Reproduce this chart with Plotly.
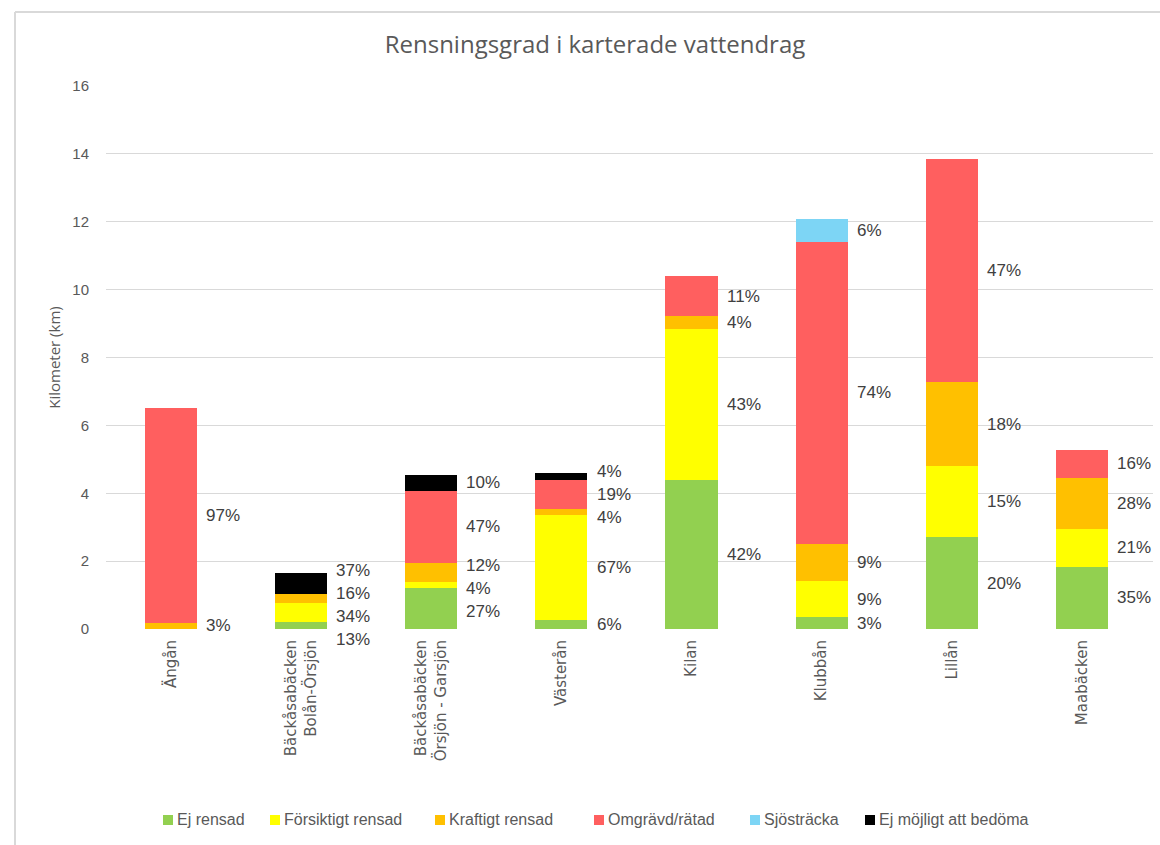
import plotly.graph_objects as go

categories = ["Ängån", "Bäckåsabäcken<br>Bolån-Örsjön", "Bäckåsabäcken<br>Örsjön - Garsjön",
              "Västerån", "Kilan", "Klubbån", "Lillån", "Maabäcken"]

series_names = ["Ej rensad", "Försiktigt rensad", "Kraftigt rensad",
                "Omgrävd/rätad", "Sjösträcka", "Ej möjligt att bedöma"]

# kilometre values per series (per category)
ej_rensad      = [0.00, 0.21, 1.20, 0.26, 4.40, 0.34, 2.70, 1.84]
forsiktigt     = [0.00, 0.56, 0.18, 3.09, 4.45, 1.08, 2.09, 1.11]
kraftigt       = [0.18, 0.27, 0.56, 0.19, 0.36, 1.09, 2.50, 1.50]
omgravd        = [6.34, 0.00, 2.14, 0.85, 1.19, 8.89, 6.56, 0.83]
sjostracka     = [0.00, 0.00, 0.00, 0.00, 0.00, 0.67, 0.00, 0.00]
ej_mojligt     = [0.00, 0.61, 0.46, 0.20, 0.00, 0.00, 0.00, 0.00]

# percentage labels as printed on the chart
pct_ej_rensad  = [None, 13, 27, 6, 42, 3, 20, 35]
pct_forsiktigt = [None, 34, 4, 67, 43, 9, 15, 21]
pct_kraftigt   = [3, 16, 12, 4, 4, 9, 18, 28]
pct_omgravd    = [97, None, 47, 19, 11, 74, 47, 16]
pct_sjostracka = [None, None, None, None, None, 6, None, None]
pct_ej_mojligt = [None, 37, 10, 4, None, None, None, None]

colors = ["#92D050", "#FFFF00", "#FFC000", "#FF5F5F", "#7DD5F5", "#000000"]

values = [ej_rensad, forsiktigt, kraftigt, omgravd, sjostracka, ej_mojligt]
pcts = [pct_ej_rensad, pct_forsiktigt, pct_kraftigt, pct_omgravd, pct_sjostracka, pct_ej_mojligt]

FIG_W, FIG_H = 1160, 845
M_L, M_R, M_T, M_B = 106, 7, 86, 216
Y_MAX = 16
plot_h = FIG_H - M_T - M_B
px_per_unit = plot_h / Y_MAX
plot_w = FIG_W - M_L - M_R
cat_w = plot_w / len(categories)
BAR_W = 0.4


def px_x(px):
    return (px - M_L) / plot_w


def px_y(py):
    return (FIG_H - M_B - py) / plot_h


fig = go.Figure()
for name, vals, col in zip(series_names, values, colors):
    fig.add_trace(go.Bar(
        name=name, x=categories, y=vals,
        marker=dict(color=col, line=dict(width=0)),
        width=BAR_W, showlegend=False,
    ))

# percentage labels: centred on their segment, spread apart when crowded
gap = 23 / px_per_unit
annotations = []
for ci, cat in enumerate(categories):
    base = 0.0
    items = []
    for si in range(len(values)):
        v = values[si][ci]
        p = pcts[si][ci]
        if v > 0 and p is not None:
            items.append([base + v / 2, f"{p}%"])
        base += v
    for _ in range(300):
        for i in range(len(items) - 1):
            d = items[i + 1][0] - items[i][0]
            if d < gap:
                s = (gap - d) / 2
                items[i][0] -= s
                items[i + 1][0] += s
    for y, t in items:
        y_in = max(y, 0.0)
        annotations.append(dict(
            x=cat, y=y_in, text=t, showarrow=False, xanchor="left", yanchor="middle",
            xshift=BAR_W * cat_w / 2 + 7, yshift=(y - y_in) * px_per_unit,
            font=dict(family="Liberation Sans", size=17, color="#404040"),
        ))

# legend drawn as squares + text (compact Excel-style spacing)
legend_left_px = [163, 270, 435, 594, 750, 865]
LEG_Y = 820
SQ = 10
shapes = []
for name, col, lx in zip(series_names, colors, legend_left_px):
    shapes.append(dict(type="rect", xref="paper", yref="paper",
                       x0=px_x(lx), x1=px_x(lx + SQ), y0=px_y(LEG_Y + SQ / 2), y1=px_y(LEG_Y - SQ / 2),
                       fillcolor=col, line=dict(width=0)))
    annotations.append(dict(xref="paper", yref="paper", x=px_x(lx + SQ + 2), y=px_y(LEG_Y),
                            text=name, showarrow=False, xanchor="left", yanchor="middle",
                            font=dict(family="Liberation Sans", size=16, color="#595959")))

# outer chart border (left and top edges)
shapes += [
    dict(type="line", xref="paper", yref="paper", x0=px_x(15), x1=px_x(15), y0=px_y(12), y1=px_y(FIG_H + 5),
         line=dict(color="#D9D9D9", width=2)),
    dict(type="line", xref="paper", yref="paper", x0=px_x(15), x1=px_x(FIG_W + 5), y0=px_y(12), y1=px_y(12),
         line=dict(color="#D9D9D9", width=2)),
]

fig.update_layout(
    width=FIG_W, height=FIG_H,
    margin=dict(l=M_L, r=M_R, t=M_T, b=M_B, autoexpand=False),
    barmode="stack",
    plot_bgcolor="white", paper_bgcolor="white",
    title=dict(text="Rensningsgrad i karterade vattendrag", x=(595 / FIG_W), xanchor="center",
               y=1 - 45 / FIG_H, yanchor="middle",
               font=dict(family="Open Sans", size=24, color="#595959")),
    xaxis=dict(tickangle=-90, tickfont=dict(family="DejaVu Sans", size=15, color="#595959"),
               showgrid=False, showline=False, ticks="", ticklabelstandoff=7),
    yaxis=dict(range=[0, Y_MAX], dtick=2, showgrid=True, gridcolor="#D9D9D9", gridwidth=1,
               zeroline=False, showline=False, ticklabelstandoff=16,
               tickfont=dict(family="Liberation Sans", size=15, color="#595959"),
               title=dict(text="Kilometer (km)", standoff=8,
                          font=dict(family="Open Sans", size=15, color="#595959"))),
    annotations=annotations,
    shapes=shapes,
    showlegend=False,
)

fig.write_html("out.html", config={"displayModeBar": False},
               post_script="document.body.style.margin='0';")
